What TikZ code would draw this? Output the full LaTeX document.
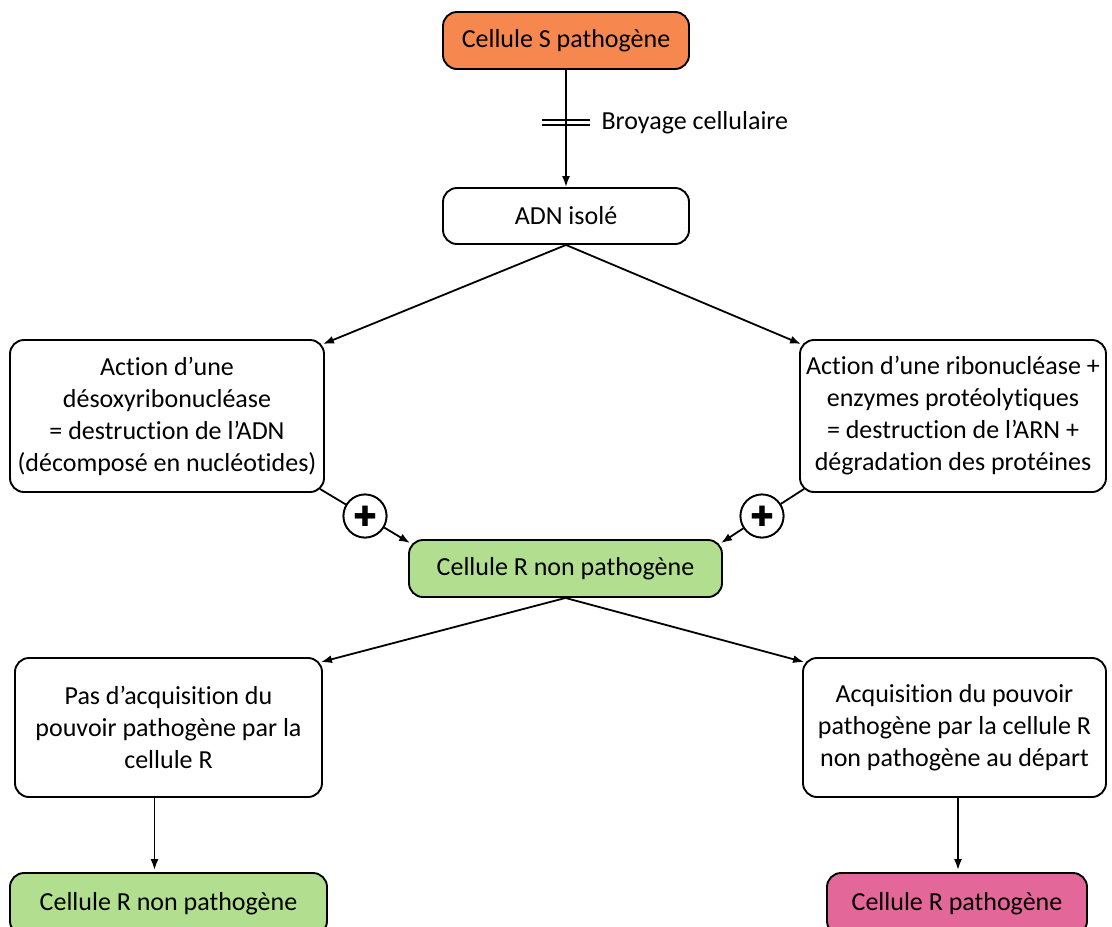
\documentclass[tikz,border=0pt]{standalone}
\usepackage{fontspec}
\setmainfont[Ligatures=NoCommon]{Carlito}
\newfontfamily\symfont{DejaVu Sans}
\usetikzlibrary{arrows.meta,calc}
\definecolor{orangeS}{HTML}{F6884F}
\definecolor{greenR}{HTML}{B1DF8F}
\definecolor{pinkR}{HTML}{E4679A}
\tikzset{
  box/.style={draw=black, line width=1.9pt, rounded corners=14pt, align=center, inner sep=2pt,
    font=\fontsize{26}{32}\selectfont},
  conn/.style={line width=1.8pt},
  arr/.style={conn, -{Latex[length=11pt,width=8pt]}},
  plus/.style={draw=black, line width=1.8pt, circle, fill=white, minimum size=43pt, inner sep=0pt,
    font=\symfont\fontsize{28}{28}\selectfont},
  lbl/.style={font=\fontsize{26}{28}\selectfont, anchor=west}
}
\begin{document}
\begin{tikzpicture}[x=1pt,y=-1pt]
\useasboundingbox (0,0) rectangle (1112,927);
\begin{scope}
\clip (0,0) rectangle (1112,927);
\node[box, fill=orangeS, minimum width=246pt, minimum height=57pt] (s) at (566,40.5) {Cellule S pathogène};
\node[box, minimum width=246pt, minimum height=56pt] (adn) at (566,216) {ADN isolé};
\node[box, minimum width=314pt, minimum height=152pt] (lb) at (167,416) {Action d’une\\désoxyribonucléase\\= destruction de l’ADN\\(décomposé en nucléotides)};
\node[box, minimum width=306pt, minimum height=152pt] (rb) at (953,416) {Action d’une ribonucléase +\\enzymes protéolytiques\\= destruction de l’ARN +\\dégradation des protéines};
\node[box, fill=greenR, minimum width=313pt, minimum height=57pt] (g) at (565.5,568.5) {Cellule R non pathogène};
\node[box, minimum width=307pt, minimum height=139pt] (ll) at (168.5,727.5) {Pas d’acquisition du\\pouvoir pathogène par la\\cellule R};
\node[box, minimum width=303pt, minimum height=139pt] (lr) at (954.5,727.5) {Acquisition du pouvoir\\pathogène par la cellule R\\non pathogène au départ};
\node[box, fill=greenR, minimum width=317pt, minimum height=62pt] (bl) at (168.5,904) {\raisebox{3pt}{Cellule R non pathogène}};
\node[box, fill=pinkR, minimum width=260pt, minimum height=62pt] (br) at (957,904) {\raisebox{3pt}{Cellule R pathogène}};
\end{scope}
\node[plus] (p1) at (365,516) {✚};
\node[plus] (p2) at (762,516) {✚};
% connectors
\draw[arr] (s.south) -- (adn.north);
\coordinate (mid) at ($(s.south)!0.45!(adn.north)$);
\draw[conn] ([shift={(-24,-2.5)}]mid) -- ([shift={(24,-2.5)}]mid);
\draw[conn] ([shift={(-24,2.5)}]mid) -- ([shift={(24,2.5)}]mid);
\node[lbl] (broy) at ([shift={(32,0)}]mid) {Broyage cellulaire};
\draw[arr] (adn.south) -- ([shift={(-2,5)}]lb.north east);
\draw[arr] (adn.south) -- ([shift={(2,5)}]rb.north west);
\draw[conn] ([shift={(-5,-4)}]lb.south east) -- (p1);
\draw[arr] (p1) -- ([shift={(2,4)}]g.north west);
\draw[conn] ([shift={(5,-4)}]rb.south west) -- (p2);
\draw[arr] (p2) -- ([shift={(-2,4)}]g.north east);
\draw[arr] (g.south) -- ([shift={(-2,5)}]ll.north east);
\draw[arr] (g.south) -- ([shift={(2,5)}]lr.north west);
\draw[arr] ([xshift=-14pt]ll.south) -- ([xshift=-14pt,yshift=2pt]ll.south |- bl.north);
\draw[arr] ([xshift=3.5pt]lr.south) -- ([xshift=3.5pt,yshift=2pt]lr.south |- br.north);
% redraw plus circles on top
\node[plus] at (p1) {✚};
\node[plus] at (p2) {✚};
\end{tikzpicture}
\end{document}
